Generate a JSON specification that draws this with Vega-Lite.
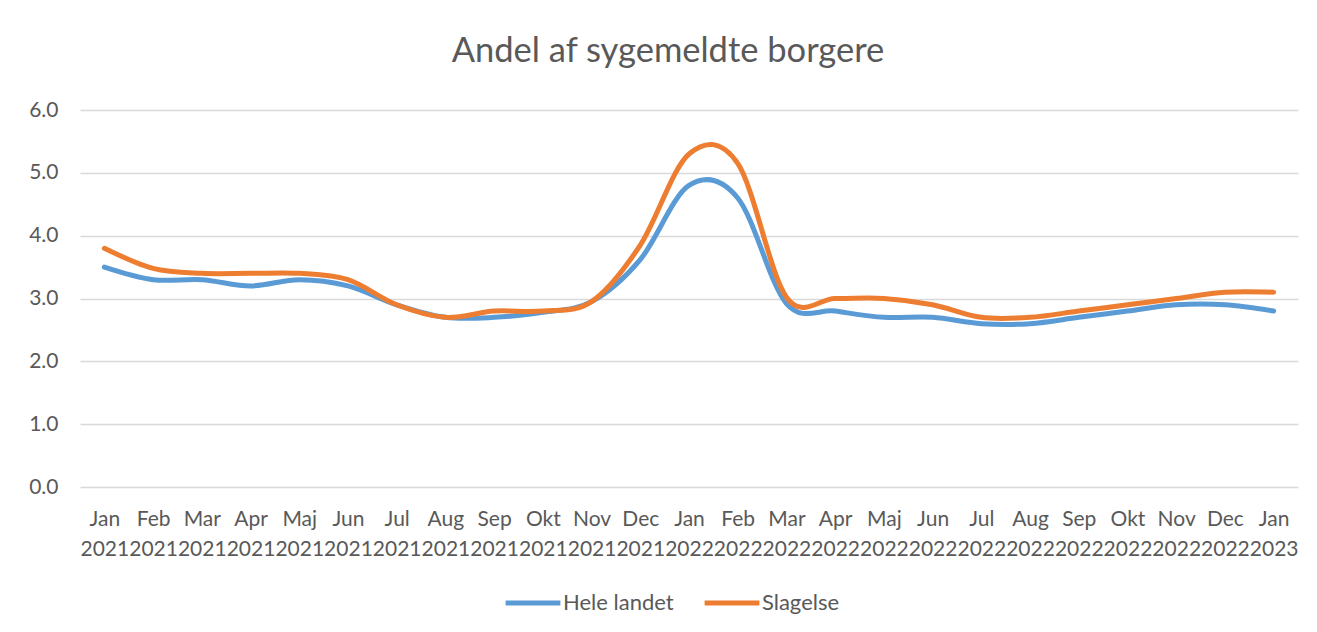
{
  "$schema": "https://vega.github.io/schema/vega-lite/v6.json",
  "autosize": {"type": "none"},
  "width": 1218,
  "height": 377,
  "padding": {"left": 80, "top": 110, "right": 19, "bottom": 145},
  "background": "white",
  "title": {
    "text": "Andel af sygemeldte borgere",
    "font": "Lato",
    "fontSize": 34.5,
    "fontWeight": "normal",
    "color": "#595959",
    "anchor": "middle",
    "dx": -21,
    "offset": 30
  },
  "config": {
    "view": {"stroke": null},
    "axis": {
      "labelFont": "Lato",
      "labelFontSize": 21,
      "labelColor": "#595959",
      "domain": false,
      "ticks": false
    },
    "legend": {
      "labelFont": "Lato",
      "labelFontSize": 22,
      "labelColor": "#595959"
    }
  },
  "data": {
    "values": [
      {"month": "Jan 2021", "series": "Hele landet", "value": 3.5},
      {"month": "Feb 2021", "series": "Hele landet", "value": 3.3},
      {"month": "Mar 2021", "series": "Hele landet", "value": 3.3},
      {"month": "Apr 2021", "series": "Hele landet", "value": 3.2},
      {"month": "Maj 2021", "series": "Hele landet", "value": 3.3},
      {"month": "Jun 2021", "series": "Hele landet", "value": 3.2},
      {"month": "Jul 2021", "series": "Hele landet", "value": 2.9},
      {"month": "Aug 2021", "series": "Hele landet", "value": 2.7},
      {"month": "Sep 2021", "series": "Hele landet", "value": 2.7},
      {"month": "Okt 2021", "series": "Hele landet", "value": 2.78},
      {"month": "Nov 2021", "series": "Hele landet", "value": 2.95},
      {"month": "Dec 2021", "series": "Hele landet", "value": 3.62},
      {"month": "Jan 2022", "series": "Hele landet", "value": 4.8},
      {"month": "Feb 2022", "series": "Hele landet", "value": 4.6},
      {"month": "Mar 2022", "series": "Hele landet", "value": 2.92},
      {"month": "Apr 2022", "series": "Hele landet", "value": 2.8},
      {"month": "Maj 2022", "series": "Hele landet", "value": 2.7},
      {"month": "Jun 2022", "series": "Hele landet", "value": 2.7},
      {"month": "Jul 2022", "series": "Hele landet", "value": 2.6},
      {"month": "Aug 2022", "series": "Hele landet", "value": 2.6},
      {"month": "Sep 2022", "series": "Hele landet", "value": 2.7},
      {"month": "Okt 2022", "series": "Hele landet", "value": 2.8},
      {"month": "Nov 2022", "series": "Hele landet", "value": 2.9},
      {"month": "Dec 2022", "series": "Hele landet", "value": 2.9},
      {"month": "Jan 2023", "series": "Hele landet", "value": 2.8},
      {"month": "Jan 2021", "series": "Slagelse", "value": 3.8},
      {"month": "Feb 2021", "series": "Slagelse", "value": 3.48},
      {"month": "Mar 2021", "series": "Slagelse", "value": 3.4},
      {"month": "Apr 2021", "series": "Slagelse", "value": 3.4},
      {"month": "Maj 2021", "series": "Slagelse", "value": 3.4},
      {"month": "Jun 2021", "series": "Slagelse", "value": 3.3},
      {"month": "Jul 2021", "series": "Slagelse", "value": 2.9},
      {"month": "Aug 2021", "series": "Slagelse", "value": 2.7},
      {"month": "Sep 2021", "series": "Slagelse", "value": 2.8},
      {"month": "Okt 2021", "series": "Slagelse", "value": 2.8},
      {"month": "Nov 2021", "series": "Slagelse", "value": 2.95},
      {"month": "Dec 2021", "series": "Slagelse", "value": 3.85},
      {"month": "Jan 2022", "series": "Slagelse", "value": 5.3},
      {"month": "Feb 2022", "series": "Slagelse", "value": 5.15},
      {"month": "Mar 2022", "series": "Slagelse", "value": 3.02},
      {"month": "Apr 2022", "series": "Slagelse", "value": 3.0},
      {"month": "Maj 2022", "series": "Slagelse", "value": 3.0},
      {"month": "Jun 2022", "series": "Slagelse", "value": 2.9},
      {"month": "Jul 2022", "series": "Slagelse", "value": 2.7},
      {"month": "Aug 2022", "series": "Slagelse", "value": 2.7},
      {"month": "Sep 2022", "series": "Slagelse", "value": 2.8},
      {"month": "Okt 2022", "series": "Slagelse", "value": 2.9},
      {"month": "Nov 2022", "series": "Slagelse", "value": 3.0},
      {"month": "Dec 2022", "series": "Slagelse", "value": 3.1},
      {"month": "Jan 2023", "series": "Slagelse", "value": 3.1}
    ]
  },
  "mark": {"type": "line", "interpolate": "cardinal", "strokeWidth": 5, "strokeCap": "round", "strokeJoin": "round"},
  "encoding": {
    "x": {
      "field": "month",
      "type": "ordinal",
      "sort": null,
      "scale": {"type": "point", "padding": 0.5},
      "axis": {
        "title": null,
        "labelAngle": 0,
        "grid": false,
        "labelExpr": "split(datum.label, ' ')",
        "labelLineHeight": 30,
        "labelPadding": 21,
        "labelBaseline": "top"
      }
    },
    "y": {
      "field": "value",
      "type": "quantitative",
      "scale": {"domain": [0, 6], "nice": false},
      "axis": {
        "title": null,
        "values": [0, 1, 2, 3, 4, 5, 6],
        "format": ".1f",
        "grid": true,
        "gridColor": "#D9D9D9",
        "gridWidth": 1.3,
        "labelPadding": 22
      }
    },
    "color": {
      "field": "series",
      "type": "nominal",
      "scale": {"domain": ["Hele landet", "Slagelse"], "range": ["#5B9BD5", "#ED7D31"]},
      "legend": {
        "title": null,
        "orient": "none",
        "direction": "horizontal",
        "legendX": 423,
        "legendY": 463,
        "symbolType": "stroke",
        "symbolSize": 3000,
        "symbolStrokeWidth": 5,
        "labelOffset": 0,
        "columnPadding": 20
      }
    }
  }
}
